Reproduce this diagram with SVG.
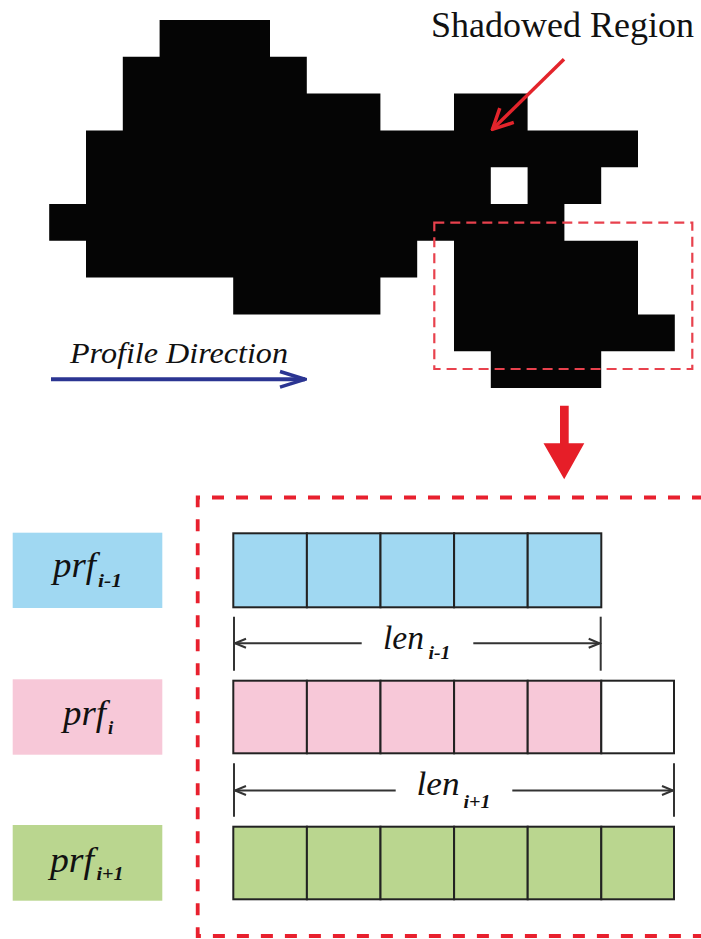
<svg xmlns="http://www.w3.org/2000/svg" width="701" height="939" viewBox="0 0 701 939">
  <style>
    .serif { font-family: "Liberation Serif", "Times New Roman", serif; }
    .ital { font-family: "Liberation Serif", "Times New Roman", serif; font-style: italic; fill: #111; }
    .cell { stroke: #222; stroke-width: 2; }
    .blue { fill: #a0d8f2; }
    .pink { fill: #f7c8d8; }
    .green { fill: #bad68f; }
    .dim { stroke: #333; stroke-width: 2; fill: none; }
  </style>
  <defs>
    <marker id="dimHead" viewBox="-14 -7 16 14" refX="0" refY="0" markerWidth="16" markerHeight="14" markerUnits="userSpaceOnUse" orient="auto">
      <path d="M-11,-4.5 L0,0 L-11,4.5" fill="none" stroke="#333" stroke-width="2"/>
    </marker>
    <marker id="redHead" viewBox="-26 -12 28 24" refX="0" refY="0" markerWidth="28" markerHeight="24" markerUnits="userSpaceOnUse" orient="auto">
      <path d="M-20,-10 L0,0 L-20,10" fill="none" stroke="#e3242b" stroke-width="3.5" stroke-linejoin="miter"/>
    </marker>
    <marker id="blueHead" viewBox="-28 -10 30 20" refX="0" refY="0" markerWidth="30" markerHeight="20" markerUnits="userSpaceOnUse" orient="auto">
      <path d="M-25,-7.8 L0,0 L-25,7.8" fill="none" stroke="#2b3592" stroke-width="3.5"/>
    </marker>
  </defs>

  <!-- pixel region, one cell per grid unit -->
  <g id="region" transform="translate(49.2 20) scale(36.8)">
    <path fill="#050505" d="
      M3,0 H6 V1 H3 Z
      M2,1 H7 V2 H2 Z
      M2,2 H9 V3 H2 Z  M11,2 H13 V3 H11 Z
      M1,3 H16 V4 H1 Z
      M1,4 H12 V5 H1 Z  M13,4 H15 V5 H13 Z
      M0,5 H14 V6 H0 Z
      M1,6 H10 V7 H1 Z  M11,6 H16 V7 H11 Z
      M5,7 H9 V8 H5 Z   M11,7 H16 V8 H11 Z
      M11,8 H17 V9 H11 Z
      M12,9 H15 V10 H12 Z"/>
  </g>

  <!-- selected sub-region -->
  <g id="selection">
    <rect x="434.3" y="222.7" width="258" height="146.3" fill="none" stroke="#e8414d" stroke-width="2.2" stroke-dasharray="10 6"/>
  </g>

  <g id="shadowed-label">
    <text class="serif" x="431" y="36.5" font-size="36" fill="#111">Shadowed Region</text>
  </g>

  <g id="profile-label">
    <text class="ital" x="70" y="363" font-size="30" textLength="218" lengthAdjust="spacingAndGlyphs">Profile Direction</text>
  </g>

  <!-- profile rows -->
  <g id="row-prev">
    <rect class="blue" x="12.7" y="532.7" width="149.6" height="75.3"/>
    <text class="ital" x="53" y="576.5" font-size="35" textLength="43" lengthAdjust="spacingAndGlyphs">prf</text>
    <text class="ital" x="98" y="587" font-size="19" font-weight="bold" textLength="24" lengthAdjust="spacingAndGlyphs">i-1</text>
    <rect class="cell blue" x="233.3" y="533.3" width="73.6" height="74"/>
    <rect class="cell blue" x="306.9" y="533.3" width="73.6" height="74"/>
    <rect class="cell blue" x="380.5" y="533.3" width="73.6" height="74"/>
    <rect class="cell blue" x="454.1" y="533.3" width="73.6" height="74"/>
    <rect class="cell blue" x="527.7" y="533.3" width="73.6" height="74"/>
  </g>

  <g id="row-cur">
    <rect class="pink" x="12.7" y="679.3" width="149.6" height="75.4"/>
    <text class="ital" x="63" y="725" font-size="35" textLength="43" lengthAdjust="spacingAndGlyphs">prf</text>
    <text class="ital" x="108" y="733.5" font-size="19" font-weight="bold">i</text>
    <rect class="cell pink" x="233.3" y="680.7" width="73.6" height="72.6"/>
    <rect class="cell pink" x="306.9" y="680.7" width="73.6" height="72.6"/>
    <rect class="cell pink" x="380.5" y="680.7" width="73.6" height="72.6"/>
    <rect class="cell pink" x="454.1" y="680.7" width="73.6" height="72.6"/>
    <rect class="cell pink" x="527.7" y="680.7" width="73.6" height="72.6"/>
    <rect class="cell" fill="#ffffff" x="601.3" y="680.7" width="72.7" height="72.6"/>
  </g>

  <g id="row-next">
    <rect class="green" x="12.7" y="825" width="149.6" height="75.7"/>
    <text class="ital" x="50" y="871.5" font-size="35" textLength="44" lengthAdjust="spacingAndGlyphs">prf</text>
    <text class="ital" x="96.5" y="879.5" font-size="19" font-weight="bold" textLength="27" lengthAdjust="spacingAndGlyphs">i+1</text>
    <rect class="cell green" x="233.3" y="826.7" width="73.6" height="72.6"/>
    <rect class="cell green" x="306.9" y="826.7" width="73.6" height="72.6"/>
    <rect class="cell green" x="380.5" y="826.7" width="73.6" height="72.6"/>
    <rect class="cell green" x="454.1" y="826.7" width="73.6" height="72.6"/>
    <rect class="cell green" x="527.7" y="826.7" width="73.6" height="72.6"/>
    <rect class="cell green" x="601.3" y="826.7" width="72.7" height="72.6"/>
  </g>

  <!-- length dimensions -->
  <g id="dim-prev">
    <line class="dim" x1="234" y1="616.7" x2="234" y2="670.7"/>
    <line class="dim" x1="600.7" y1="616.7" x2="600.7" y2="670.7"/>
    <text class="ital" x="383" y="648.5" font-size="33" textLength="41" lengthAdjust="spacingAndGlyphs">len</text>
    <text class="ital" x="428.5" y="658.5" font-size="18" font-weight="bold" textLength="22" lengthAdjust="spacingAndGlyphs">i-1</text>
  </g>

  <g id="dim-next">
    <line class="dim" x1="234" y1="763.3" x2="234" y2="816.7"/>
    <line class="dim" x1="674" y1="763.3" x2="674" y2="816.7"/>
    <text class="ital" x="416.5" y="795" font-size="33" textLength="43" lengthAdjust="spacingAndGlyphs">len</text>
    <text class="ital" x="463.5" y="807.5" font-size="18" font-weight="bold" textLength="27" lengthAdjust="spacingAndGlyphs">i+1</text>
  </g>

  <!-- enlarged view frame -->
  <g id="detail-frame">
    <path d="M704,497.5 H197.7 V936 H704" fill="none" stroke="#e8202e" stroke-width="3.8" stroke-dasharray="12 12"/>
  </g>

  <!-- connectors -->
  <g id="connectors">
    <line x1="564" y1="59.3" x2="492.5" y2="129.3" stroke="#e3242b" stroke-width="3.5" marker-end="url(#redHead)"/>
    <line x1="51" y1="379.3" x2="305" y2="379.3" stroke="#2b3592" stroke-width="4" marker-end="url(#blueHead)"/>
    <polygon points="560,405.7 568.7,405.7 568.7,443.3 584.3,443.3 564.2,479.3 543.5,443.3 560,443.3" fill="#e61e28"/>
    <line class="dim" x1="361.7" y1="643.3" x2="235" y2="643.3" marker-end="url(#dimHead)"/>
    <line class="dim" x1="473.3" y1="643.3" x2="599.7" y2="643.3" marker-end="url(#dimHead)"/>
    <line class="dim" x1="395.7" y1="790.5" x2="235" y2="790.5" marker-end="url(#dimHead)"/>
    <line class="dim" x1="512.3" y1="790.5" x2="673" y2="790.5" marker-end="url(#dimHead)"/>
  </g>
</svg>
